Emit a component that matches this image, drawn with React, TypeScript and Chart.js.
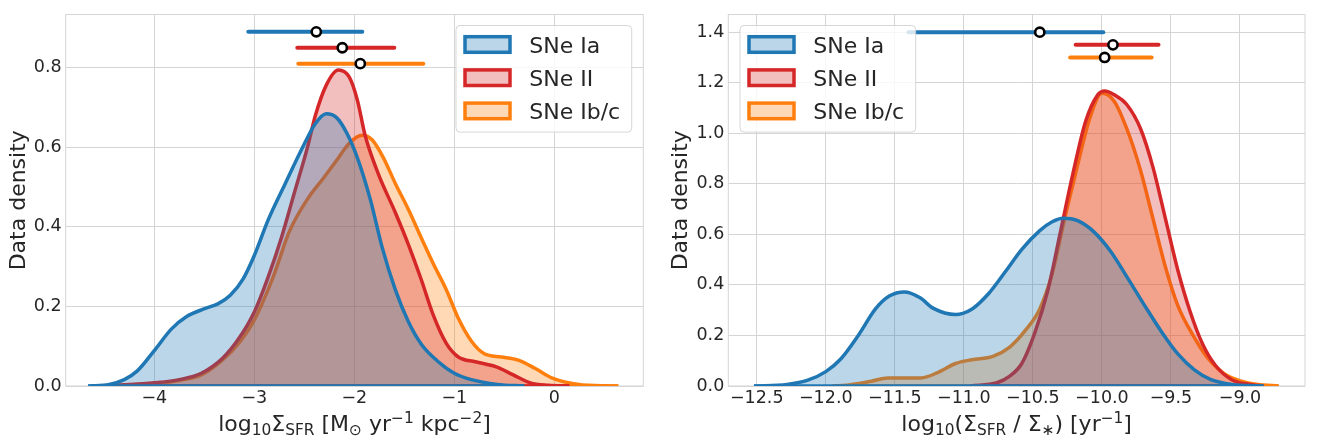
import { useEffect, useRef } from 'react';
import { Chart, registerables } from 'chart.js';

Chart.register(...registerables);

const FONT = '"DejaVu Sans", "Liberation Sans", sans-serif';
const INK = '#262626';
const GRID = '#d5d5d5';

const NAMES = ['SNe Ia', 'SNe II', 'SNe Ib/c'];
const COLORS = ['#1f77b4', '#d62728', '#ff7f0e'];
const FILLS = ['rgba(31,119,180,0.3)', 'rgba(214,39,40,0.3)', 'rgba(255,127,14,0.3)'];

// ---------- left panel: log10 Σ_SFR density curves ----------
const sfrIaX = [-4.66, -4.45, -4.30, -4.17, -4.0, -3.83, -3.68, -3.49, -3.36, -3.24, -3.11, -3.0, -2.86, -2.69, -2.52, -2.39, -2.28, -2.18, -2.08, -1.97, -1.84, -1.72, -1.59, -1.46, -1.33, -1.16, -1.0, -0.83, -0.57, -0.30];
const sfrIaY = [0, 0.004, 0.016, 0.038, 0.089, 0.143, 0.174, 0.195, 0.207, 0.228, 0.27, 0.328, 0.418, 0.509, 0.598, 0.659, 0.684, 0.675, 0.638, 0.574, 0.469, 0.347, 0.242, 0.162, 0.105, 0.061, 0.032, 0.016, 0.004, 0];

const sfrIIX = [-4.62, -4.3, -4.0, -3.75, -3.53, -3.32, -3.15, -3.0, -2.86, -2.73, -2.60, -2.47, -2.39, -2.28, -2.16, -2.05, -1.97, -1.89, -1.76, -1.59, -1.46, -1.33, -1.21, -1.08, -0.96, -0.79, -0.58, -0.41, -0.24, -0.06, 0.15];
const sfrIIY = [0, 0.003, 0.008, 0.016, 0.032, 0.069, 0.121, 0.186, 0.275, 0.372, 0.485, 0.598, 0.679, 0.756, 0.794, 0.776, 0.719, 0.628, 0.533, 0.436, 0.356, 0.267, 0.178, 0.107, 0.073, 0.061, 0.048, 0.028, 0.008, 0.002, 0];

const sfrIbcX = [-4.62, -4.3, -4.0, -3.75, -3.53, -3.32, -3.15, -3.0, -2.81, -2.65, -2.47, -2.30, -2.18, -2.05, -1.92, -1.82, -1.71, -1.59, -1.46, -1.33, -1.21, -1.08, -0.96, -0.83, -0.70, -0.53, -0.36, -0.19, -0.02, 0.19, 0.40, 0.64];
const sfrIbcY = [0, 0.002, 0.006, 0.014, 0.028, 0.065, 0.109, 0.166, 0.275, 0.388, 0.469, 0.525, 0.566, 0.610, 0.630, 0.618, 0.574, 0.509, 0.444, 0.372, 0.307, 0.242, 0.170, 0.113, 0.081, 0.073, 0.065, 0.044, 0.020, 0.006, 0.001, 0];

// medians with their spread, drawn above the curves
const sfrMid = [-2.38, -2.12, -1.94];
const sfrLo = [-3.06, -2.57, -2.56];
const sfrHi = [-1.92, -1.60, -1.31];
const sfrLevel = [0.89, 0.85, 0.81];

const sfrXTicks = [-4, -3, -2, -1, 0];
const sfrYTicks = [0, 0.2, 0.4, 0.6, 0.8];

// ---------- right panel: log10(Σ_SFR / Σ*) density curves ----------
const ssfrIaX = [-12.52, -12.28, -12.13, -12.0, -11.89, -11.76, -11.64, -11.54, -11.43, -11.32, -11.22, -11.06, -10.94, -10.82, -10.70, -10.58, -10.45, -10.36, -10.28, -10.18, -10.06, -9.94, -9.82, -9.69, -9.57, -9.45, -9.33, -9.21, -9.06, -8.83];
const ssfrIaY = [0, 0.006, 0.023, 0.057, 0.108, 0.204, 0.305, 0.356, 0.372, 0.350, 0.307, 0.283, 0.305, 0.366, 0.452, 0.541, 0.615, 0.650, 0.664, 0.655, 0.611, 0.535, 0.433, 0.318, 0.216, 0.127, 0.064, 0.025, 0.006, 0];

const ssfrIIX = [-10.95, -10.76, -10.67, -10.58, -10.49, -10.39, -10.30, -10.21, -10.12, -10.03, -9.98, -9.91, -9.82, -9.72, -9.63, -9.54, -9.45, -9.36, -9.27, -9.18, -9.06, -8.93, -8.83];
const ssfrIIY = [0, 0.013, 0.038, 0.089, 0.204, 0.382, 0.611, 0.840, 1.044, 1.152, 1.167, 1.152, 1.114, 1.018, 0.865, 0.662, 0.458, 0.293, 0.165, 0.083, 0.025, 0.006, 0];

const ssfrIbcX = [-11.95, -11.85, -11.67, -11.55, -11.43, -11.31, -11.19, -11.06, -10.94, -10.79, -10.67, -10.55, -10.45, -10.36, -10.27, -10.18, -10.09, -10.0, -9.91, -9.82, -9.72, -9.63, -9.54, -9.45, -9.33, -9.24, -9.12, -8.99, -8.87, -8.72];
const ssfrIbcY = [0, 0.003, 0.019, 0.032, 0.032, 0.032, 0.053, 0.089, 0.104, 0.117, 0.153, 0.223, 0.305, 0.445, 0.662, 0.865, 1.056, 1.158, 1.126, 1.018, 0.853, 0.662, 0.471, 0.318, 0.191, 0.115, 0.051, 0.019, 0.006, 0];

const ssfrMid = [-10.45, -9.92, -9.98];
const ssfrLo = [-11.40, -10.19, -10.23];
const ssfrHi = [-9.99, -9.59, -9.64];
const ssfrLevel = [1.40, 1.35, 1.30];

const ssfrXTicks = [-12.5, -12.0, -11.5, -11.0, -10.5, -10.0, -9.5, -9.0];
const ssfrYTicks = [0, 0.2, 0.4, 0.6, 0.8, 1.0, 1.2, 1.4];

// axis titles with sub/superscript runs
type Seg = { t: string; s?: 'sub' | 'sup' };
const sfrTitle: Seg[] = [
  { t: 'log' }, { t: '10', s: 'sub' }, { t: 'Σ' }, { t: 'SFR', s: 'sub' }, { t: ' [M' }, { t: '⊙', s: 'sub' },
  { t: ' yr' }, { t: '−1', s: 'sup' }, { t: ' kpc' }, { t: '−2', s: 'sup' }, { t: ']' },
];
const ssfrTitle: Seg[] = [
  { t: 'log' }, { t: '10', s: 'sub' }, { t: '(Σ' }, { t: 'SFR', s: 'sub' }, { t: ' / Σ' }, { t: '∗', s: 'sub' },
  { t: ') [yr' }, { t: '−1', s: 'sup' }, { t: ']' },
];
const Y_TITLE = 'Data density';

const minus = (s: string) => s.replace('-', '−');

const zip = (xs: number[], ys: number[]) => xs.map((x, i) => ({ x, y: ys[i] }));

function buildDatasets(cx: number[][], cy: number[][], mid: number[], lo: number[], hi: number[], level: number[]) {
  const ds: any[] = [];
  ds.push({
    data: mid.map((x, i) => ({ x, y: level[i] })),
    showLine: false,
    pointRadius: 4.6,
    pointBorderWidth: 2.6,
    pointBackgroundColor: '#ffffff',
    pointBorderColor: '#000000',
    order: 0,
  });
  lo.forEach((l, i) => {
    ds.push({
      data: [{ x: l, y: level[i] }, { x: hi[i], y: level[i] }],
      borderColor: COLORS[i],
      borderWidth: 4,
      borderCapStyle: 'round',
      pointRadius: 0,
      fill: false,
      order: 1 + i,
    });
  });
  cx.forEach((xs, i) => {
    ds.push({
      data: [{ x: xs[0], y: 0 }, { x: xs[xs.length - 1], y: 0 }],
      borderColor: COLORS[i],
      borderWidth: 3.5,
      pointRadius: 0,
      fill: false,
      order: 10 + i * 2,
    });
    ds.push({
      label: NAMES[i],
      data: zip(xs, cy[i]),
      borderColor: COLORS[i],
      backgroundColor: FILLS[i],
      borderWidth: 3.5,
      pointRadius: 0,
      fill: 'origin',
      cubicInterpolationMode: 'monotone',
      order: 11 + i * 2,
    });
  });
  return ds;
}

function drawRich(ctx: CanvasRenderingContext2D, segs: Seg[], cx: number, base: number, size: number) {
  const small = size * 0.7;
  const widths = segs.map((s) => {
    ctx.font = `${s.s ? small : size}px ${FONT}`;
    return ctx.measureText(s.t).width;
  });
  const total = widths.reduce((a, b) => a + b, 0);
  let x = cx - total / 2;
  ctx.textAlign = 'left';
  ctx.textBaseline = 'alphabetic';
  segs.forEach((s, i) => {
    ctx.font = `${s.s ? small : size}px ${FONT}`;
    const dy = s.s === 'sub' ? size * 0.2 : s.s === 'sup' ? -size * 0.34 : 0;
    ctx.fillText(s.t, x, base + dy);
    x += widths[i];
  });
}

function roundedRect(ctx: CanvasRenderingContext2D, x: number, y: number, w: number, h: number, r: number) {
  ctx.beginPath();
  ctx.moveTo(x + r, y);
  ctx.lineTo(x + w - r, y);
  ctx.arcTo(x + w, y, x + w, y + r, r);
  ctx.lineTo(x + w, y + h - r);
  ctx.arcTo(x + w, y + h, x + w - r, y + h, r);
  ctx.lineTo(x + r, y + h);
  ctx.arcTo(x, y + h, x, y + h - r, r);
  ctx.lineTo(x, y + r);
  ctx.arcTo(x, y, x + r, y, r);
  ctx.closePath();
}

const panelDecor = {
  id: 'panelDecor',
  beforeDatasetsDraw(chart: any) {
    const { ctx, chartArea: a } = chart;
    ctx.save();
    ctx.strokeStyle = GRID;
    ctx.lineWidth = 1;
    ctx.strokeRect(a.left, a.top, a.right - a.left, a.bottom - a.top);
    ctx.restore();
  },
  afterDatasetsDraw(chart: any, _a: any, opts: any) {
    const { ctx, chartArea: a } = chart;
    const boxW = 175.7;
    const boxH = 106.6;
    const bx = opts.legendSide === 'right' ? a.right - 11.6 - boxW : a.left + 11.7;
    const by = a.top + 11;
    ctx.save();
    roundedRect(ctx, bx, by, boxW, boxH, 4);
    ctx.fillStyle = 'rgba(255,255,255,0.8)';
    ctx.fill();
    ctx.strokeStyle = 'rgba(204,204,204,0.8)';
    ctx.lineWidth = 1;
    ctx.stroke();
    NAMES.forEach((name, i) => {
      const cy = by + 19 + i * 33.2;
      const hw = 45;
      const hh = 15.6;
      const hx = bx + 31.5 - hw / 2;
      ctx.fillStyle = '#ffffff';
      ctx.fillRect(hx, cy - hh / 2, hw, hh);
      ctx.fillStyle = FILLS[i];
      ctx.fillRect(hx, cy - hh / 2, hw, hh);
      ctx.strokeStyle = COLORS[i];
      ctx.lineWidth = 3.5;
      ctx.lineJoin = 'miter';
      ctx.strokeRect(hx, cy - hh / 2, hw, hh);
      ctx.fillStyle = INK;
      ctx.font = `22px ${FONT}`;
      ctx.textAlign = 'left';
      ctx.textBaseline = 'alphabetic';
      ctx.fillText(name, bx + 73.3, cy + 8);
    });
    ctx.restore();
  },
  afterDraw(chart: any, _a: any, opts: any) {
    const { ctx, chartArea: a } = chart;
    ctx.save();
    ctx.fillStyle = INK;
    drawRich(ctx, opts.xTitle, (a.left + a.right) / 2, 430.5, 22);
    ctx.translate(opts.yTitleX, (a.top + a.bottom) / 2);
    ctx.rotate(-Math.PI / 2);
    ctx.font = `22px ${FONT}`;
    ctx.textAlign = 'center';
    ctx.textBaseline = 'alphabetic';
    ctx.fillText(Y_TITLE, 0, 0);
    ctx.restore();
  },
};

type Spec = {
  datasets: any[];
  xMin: number;
  xMax: number;
  yMax: number;
  xTicks: number[];
  yTicks: number[];
  xFmt: (v: number) => string;
  areaLeft: number;
  padRight: number;
  xTitle: Seg[];
  yTitleX: number;
  legendSide: 'left' | 'right';
};

function makeConfig(sp: Spec): any {
  const tickFont = { family: FONT, size: 17.5 };
  return {
    type: 'line',
    data: { datasets: sp.datasets },
    plugins: [panelDecor],
    options: {
      animation: false,
      responsive: false,
      devicePixelRatio: 1,
      events: [],
      layout: { padding: { left: 0, right: sp.padRight, top: 1.7, bottom: 0 } },
      plugins: {
        legend: { display: false },
        tooltip: { enabled: false },
        panelDecor: { xTitle: sp.xTitle, yTitleX: sp.yTitleX, legendSide: sp.legendSide },
      },
      scales: {
        x: {
          type: 'linear',
          min: sp.xMin,
          max: sp.xMax,
          afterBuildTicks: (s: any) => { s.ticks = sp.xTicks.map((value) => ({ value })); },
          afterFit: (s: any) => { s.height = 55; },
          grid: { color: GRID, lineWidth: 1, drawTicks: false },
          border: { display: false },
          ticks: {
            autoSkip: false,
            maxRotation: 0,
            padding: 2,
            color: INK,
            font: tickFont,
            callback: (v: number) => sp.xFmt(v),
          },
        },
        y: {
          type: 'linear',
          min: 0,
          max: sp.yMax,
          afterBuildTicks: (s: any) => { s.ticks = sp.yTicks.map((value) => ({ value })); },
          afterFit: (s: any) => { s.width = sp.areaLeft; },
          grid: { color: GRID, lineWidth: 1, drawTicks: false },
          border: { display: false },
          ticks: {
            padding: 4,
            color: INK,
            font: tickFont,
            callback: (v: number) => v.toFixed(1),
          },
        },
      },
    },
  };
}

function Panel({ left, spec }: { left: number; spec: () => Spec }) {
  const ref = useRef<HTMLCanvasElement>(null);
  useEffect(() => {
    const chart = new Chart(ref.current as HTMLCanvasElement, makeConfig(spec()));
    return () => chart.destroy();
  }, []);
  return (
    <canvas
      ref={ref}
      width={660}
      height={441}
      style={{ position: 'absolute', left, top: 0, width: 660, height: 441 }}
    />
  );
}

const sfrSpec = (): Spec => ({
  datasets: buildDatasets([sfrIaX, sfrIIX, sfrIbcX], [sfrIaY, sfrIIY, sfrIbcY], sfrMid, sfrLo, sfrHi, sfrLevel),
  xMin: -4.886,
  xMax: 0.89,
  yMax: 0.9335,
  xTicks: sfrXTicks,
  yTicks: sfrYTicks,
  xFmt: (v) => minus(String(v)),
  areaLeft: 65.7,
  padRight: 16.7,
  xTitle: sfrTitle,
  yTitleX: 24.5,
  legendSide: 'right',
});

const ssfrSpec = (): Spec => ({
  datasets: buildDatasets([ssfrIaX, ssfrIIX, ssfrIbcX], [ssfrIaY, ssfrIIY, ssfrIbcY], ssfrMid, ssfrLo, ssfrHi, ssfrLevel),
  xMin: -12.706,
  xMax: -8.529,
  yMax: 1.47,
  xTicks: ssfrXTicks,
  yTicks: ssfrYTicks,
  xFmt: (v) => minus(v.toFixed(1)),
  areaLeft: 68.3,
  padRight: 15,
  xTitle: ssfrTitle,
  yTitleX: 26.9,
  legendSide: 'left',
});

export default function App() {
  return (
    <div style={{ position: 'fixed', left: 0, top: 0, width: 1320, height: 441, background: '#ffffff' }}>
      <Panel left={0} spec={sfrSpec} />
      <Panel left={660} spec={ssfrSpec} />
    </div>
  );
}
